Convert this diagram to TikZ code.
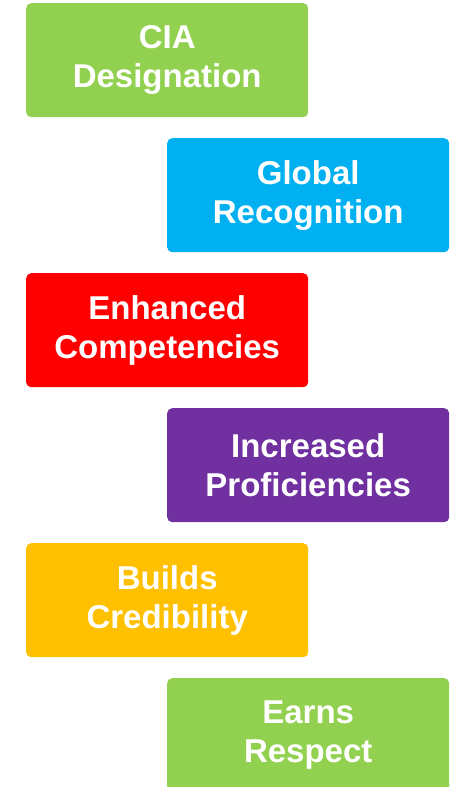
\documentclass[tikz,border=0pt]{standalone}
\usepackage{fontspec}
\setmainfont{Liberation Sans}
\usepackage{tikz}
\definecolor{cia-green}{RGB}{146, 208, 80}
\definecolor{glob-blue}{RGB}{0, 176, 240}
\definecolor{comp-red}{RGB}{255, 0, 0}
\definecolor{prof-purple}{RGB}{112, 48, 160}
\definecolor{cred-gold}{RGB}{255, 192, 0}

\tikzset{
  stepbox/.style={rectangle, rounded corners=5pt, anchor=north west,
    minimum width=282pt, minimum height=114pt, inner sep=0pt,
    align=center, text=white,
    font=\fontsize{33}{39}\selectfont\bfseries},
}

\begin{document}
\begin{tikzpicture}[x=1pt, y=-1pt]
\useasboundingbox (0,0) rectangle (457,787);
\clip (0,0) rectangle (457,787);
\node (cia) [stepbox, fill=cia-green] at (26,3) {CIA\\Designation};
\node (global) [stepbox, fill=glob-blue] at (167,138) {Global\\Recognition};
\node (comp) [stepbox, fill=comp-red] at (26,273) {Enhanced\\Competencies};
\node (prof) [stepbox, fill=prof-purple] at (167,408) {Increased\\Proficiencies};
\node (cred) [stepbox, fill=cred-gold] at (26,543) {Builds\\Credibility};
\node (respect) [stepbox, fill=cia-green] at (167,678) {Earns\\Respect};
\end{tikzpicture}
\end{document}
